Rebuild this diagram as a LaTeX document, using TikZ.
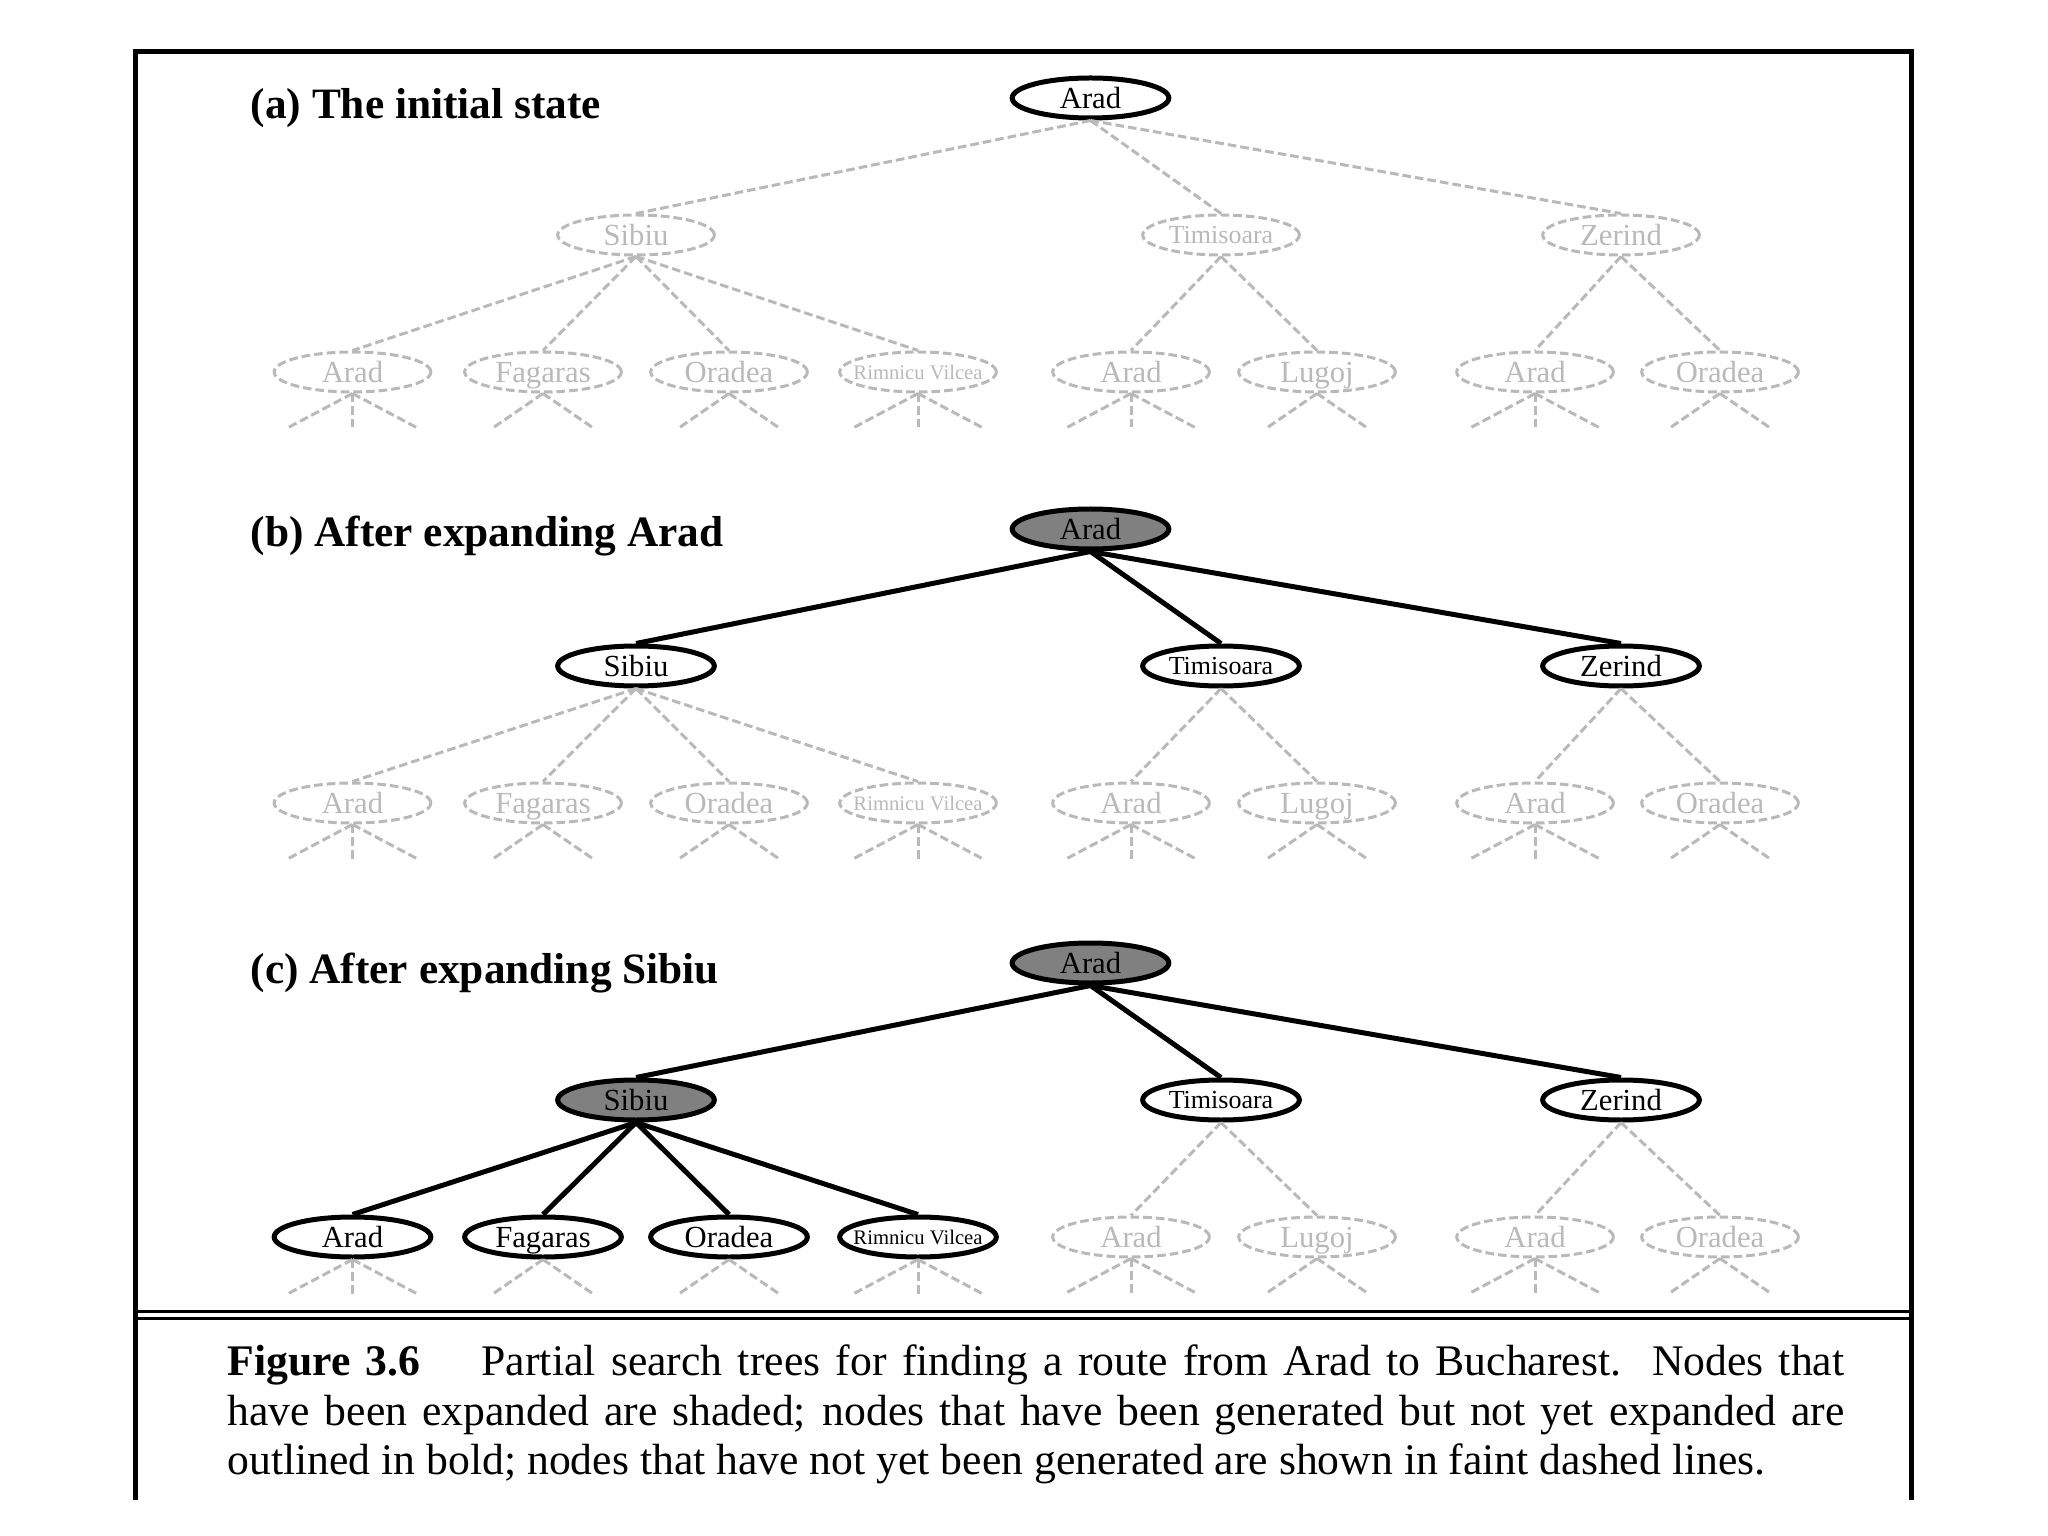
\documentclass[tikz,border=0pt]{standalone}
\usepackage{fontspec}
\setmainfont{Liberation Serif}
\usetikzlibrary{shapes.geometric}
\definecolor{faintgray}{RGB}{185,185,185}
\definecolor{shadegray}{RGB}{128,128,128}
\tikzset{
  tnode/.style={ellipse, minimum width=47pt, minimum height=12pt, inner sep=0pt,
    font=\fontsize{9.2}{10}\selectfont},
  faint/.style={tnode, draw=faintgray, text=faintgray, line width=0.9pt, dash pattern=on 2.6pt off 1.2pt},
  gen/.style={tnode, draw=black, line width=1.5pt},
  expd/.style={gen, fill=shadegray},
  fedge/.style={draw=faintgray, line width=0.9pt, dash pattern=on 2.6pt off 1.2pt},
  bedge/.style={draw=black, line width=1.5pt},
  tim/.style={font=\fontsize{7.8}{9}\selectfont},
  rim/.style={font=\fontsize{6.2}{7}\selectfont},
  panellabel/.style={anchor=base west, inner sep=0pt, font=\fontsize{13}{15}\selectfont\bfseries},
  capline/.style={anchor=base west, inner sep=0pt, font=\fontsize{13.1}{15}\selectfont},
  frame/.style={line width=1.5pt},
  rule/.style={line width=0.9pt}
}
\newcommand{\tx}[1]{\makebox[0pt]{\vphantom{A}\raisebox{0pt}[\height][0pt]{#1}}}
\begin{document}
\begin{tikzpicture}[x=0.3pt,y=-0.3pt]
\useasboundingbox (0,0) rectangle (2048,1536);
% frame
\coordinate (fbl) at (135.5,1500);
\coordinate (ftl) at (135.5,51.5);
\coordinate (ftr) at (1911,51.5);
\coordinate (fbr) at (1911,1500);
\draw[frame] (fbl) -- (ftl) -- (ftr) -- (fbr);
\coordinate (r1l) at (135.5,1311.5);
\coordinate (r1r) at (1911,1311.5);
\coordinate (r2l) at (135.5,1318);
\coordinate (r2r) at (1911,1318);
\draw[rule] (r1l) -- (r1r);
\draw[rule] (r2l) -- (r2r);

% ===== panel (a) =====
\node[panellabel] (la) at (250,119) {(a) The initial state};
\node[gen] (aR) at (1090.5,98) {\tx{Arad}};
\node[faint] (aS) at (636,235) {\tx{Sibiu}};
\node[faint,tim] (aT) at (1221,235) {\tx{Timisoara}};
\node[faint] (aZ) at (1621,235) {\tx{Zerind}};
\node[faint] (a1) at (352.5,372) {\tx{Arad}};
\node[faint] (a2) at (543,372) {\tx{Fagaras}};
\node[faint] (a3) at (729,372) {\tx{Oradea}};
\node[faint,rim] (a4) at (918,372) {\tx{Rimnicu Vilcea}};
\node[faint] (a5) at (1131,372) {\tx{Arad}};
\node[faint] (a6) at (1317,372) {\tx{Lugoj}};
\node[faint] (a7) at (1535,372) {\tx{Arad}};
\node[faint] (a8) at (1720,372) {\tx{Oradea}};
\draw[fedge] (aR.south) -- (aS.north);
\draw[fedge] (aR.south) -- (aT.north);
\draw[fedge] (aR.south) -- (aZ.north);
\foreach \c in {a1,a2,a3,a4} \draw[fedge] (aS.south) -- (\c.north);
\foreach \c in {a5,a6} \draw[fedge] (aT.south) -- (\c.north);
\foreach \c in {a7,a8} \draw[fedge] (aZ.south) -- (\c.north);
\foreach \c in {a1,a4,a5,a7} {
  \draw[fedge] (\c.south) -- ++(-66,35);
  \draw[fedge] (\c.south) -- ++(0,35);
  \draw[fedge] (\c.south) -- ++(66,35);
}
\foreach \c in {a2,a3,a6,a8} {
  \draw[fedge] (\c.south) -- ++(-51,35);
  \draw[fedge] (\c.south) -- ++(51,35);
}

% ===== panel (b) =====
\node[panellabel] (lb) at (250,547) {(b) After expanding Arad};
\node[expd] (bR) at (1090.5,529) {\tx{Arad}};
\node[gen] (bS) at (636,666) {\tx{Sibiu}};
\node[gen,tim] (bT) at (1221,666) {\tx{Timisoara}};
\node[gen] (bZ) at (1621,666) {\tx{Zerind}};
\node[faint] (b1) at (352.5,803) {\tx{Arad}};
\node[faint] (b2) at (543,803) {\tx{Fagaras}};
\node[faint] (b3) at (729,803) {\tx{Oradea}};
\node[faint,rim] (b4) at (918,803) {\tx{Rimnicu Vilcea}};
\node[faint] (b5) at (1131,803) {\tx{Arad}};
\node[faint] (b6) at (1317,803) {\tx{Lugoj}};
\node[faint] (b7) at (1535,803) {\tx{Arad}};
\node[faint] (b8) at (1720,803) {\tx{Oradea}};
\draw[bedge] (bR.south) -- (bS.north);
\draw[bedge] (bR.south) -- (bT.north);
\draw[bedge] (bR.south) -- (bZ.north);
\foreach \c in {b1,b2,b3,b4} \draw[fedge] (bS.south) -- (\c.north);
\foreach \c in {b5,b6} \draw[fedge] (bT.south) -- (\c.north);
\foreach \c in {b7,b8} \draw[fedge] (bZ.south) -- (\c.north);
\foreach \c in {b1,b4,b5,b7} {
  \draw[fedge] (\c.south) -- ++(-66,35);
  \draw[fedge] (\c.south) -- ++(0,35);
  \draw[fedge] (\c.south) -- ++(66,35);
}
\foreach \c in {b2,b3,b6,b8} {
  \draw[fedge] (\c.south) -- ++(-51,35);
  \draw[fedge] (\c.south) -- ++(51,35);
}

% ===== panel (c) =====
\node[panellabel] (lc) at (250,983) {(c) After expanding Sibiu};
\node[expd] (cR) at (1090.5,963) {\tx{Arad}};
\node[expd] (cS) at (636,1100) {\tx{Sibiu}};
\node[gen,tim] (cT) at (1221,1100) {\tx{Timisoara}};
\node[gen] (cZ) at (1621,1100) {\tx{Zerind}};
\node[gen] (c1) at (352.5,1237) {\tx{Arad}};
\node[gen] (c2) at (543,1237) {\tx{Fagaras}};
\node[gen] (c3) at (729,1237) {\tx{Oradea}};
\node[gen,rim] (c4) at (918,1237) {\tx{Rimnicu Vilcea}};
\node[faint] (c5) at (1131,1237) {\tx{Arad}};
\node[faint] (c6) at (1317,1237) {\tx{Lugoj}};
\node[faint] (c7) at (1535,1237) {\tx{Arad}};
\node[faint] (c8) at (1720,1237) {\tx{Oradea}};
\draw[bedge] (cR.south) -- (cS.north);
\draw[bedge] (cR.south) -- (cT.north);
\draw[bedge] (cR.south) -- (cZ.north);
\foreach \c in {c1,c2,c3,c4} \draw[bedge] (cS.south) -- (\c.north);
\foreach \c in {c5,c6} \draw[fedge] (cT.south) -- (\c.north);
\foreach \c in {c7,c8} \draw[fedge] (cZ.south) -- (\c.north);
\foreach \c in {c1,c4,c5,c7} {
  \draw[fedge] (\c.south) -- ++(-66,35);
  \draw[fedge] (\c.south) -- ++(0,35);
  \draw[fedge] (\c.south) -- ++(66,35);
}
\foreach \c in {c2,c3,c6,c8} {
  \draw[fedge] (\c.south) -- ++(-51,35);
  \draw[fedge] (\c.south) -- ++(51,35);
}

% ===== caption =====
\node[capline] (cap1) at (227,1375) {\makebox[485pt][s]{\textbf{Figure 3.6}\hspace{1.4em}Partial search trees for finding a route from Arad to Bucharest.\ \ Nodes that}};
\node[capline] (cap2) at (227,1425) {\makebox[485pt][s]{have been expanded are shaded; nodes that have been generated but not yet expanded are}};
\node[capline] (cap3) at (227,1474) {outlined in bold; nodes that have not yet been generated are shown in faint dashed lines.};
\end{tikzpicture}
\end{document}
